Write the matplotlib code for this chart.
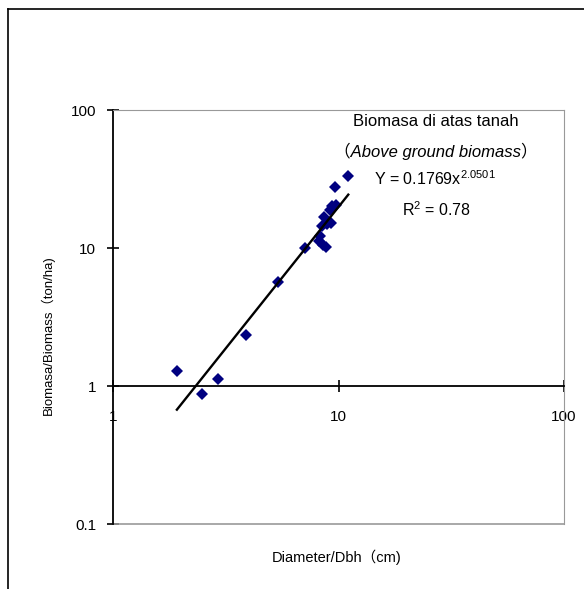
import matplotlib
matplotlib.use("Agg")
import matplotlib.pyplot as plt
import numpy as np

plt.rcParams['font.family'] = ['Liberation Sans', 'Noto Sans CJK JP', 'DejaVu Sans']
plt.rcParams['mathtext.default'] = 'regular'

# diameter (cm) and biomass (ton/ha)
dbh = [1.92, 2.49, 2.91, 3.88, 5.39, 7.10, 8.19, 8.28, 8.42, 8.56, 8.65, 8.80,
       8.89, 9.17, 9.26, 9.39, 9.65, 9.72, 11.05]
biomass = [1.28, 0.87, 1.12, 2.35, 5.63, 10.0, 11.3, 12.2, 14.4, 10.6, 16.7, 10.1,
           15.0, 19.0, 15.2, 20.0, 27.8, 20.6, 33.4]

# power trendline shown on the chart
coef_a = 0.1769
coef_b = 2.0501
r2 = 0.78

fig = plt.figure(figsize=(5.84, 5.89), dpi=100)
W, H = 584, 589
ax = fig.add_axes([113 / W, 1 - 524 / H, (564 - 113) / W, (524 - 110) / H])

ax.set_xscale('log')
ax.set_yscale('log')
ax.set_xlim(1, 100)
ax.set_ylim(0.1, 100)

ax.plot(dbh, biomass, 'D', color='#000080', markersize=6.3, markeredgewidth=0, zorder=3)

xs = np.linspace(min(dbh), max(dbh), 50)
ax.plot(xs, coef_a * xs ** coef_b, color='black', lw=1.7, zorder=4)

# spines: left axis black, x axis crossing at y = 1, rest grey frame
ax.spines['bottom'].set_position(('data', 1))
ax.spines['bottom'].set_color('black')
ax.spines['left'].set_color('black')
ax.spines['bottom'].set_linewidth(1.3)
ax.spines['left'].set_linewidth(1.3)
ax.spines['top'].set_color('#999999')
ax.spines['right'].set_color('#999999')
ax.axhline(0.1, color='#999999', lw=1.2, clip_on=False)

ax.set_xticks([1, 10, 100])
ax.set_xticklabels(['1', '10', '100'])
ax.set_yticks([0.1, 1, 10, 100])
ax.set_yticklabels(['0.1', '1', '10', '100'])
ax.minorticks_off()
ax.tick_params(axis='both', direction='inout', length=8, width=1.2, labelsize=11)
ax.tick_params(axis='x', pad=13)
ax.tick_params(axis='y', pad=8)

tx = 436
fig.text(tx / W, 1 - 121 / H, 'Biomasa di atas tanah', ha='center', va='center', fontsize=12)
fig.text(tx / W, 1 - 151 / H, '（Above ground biomass）', ha='center', va='center',
         fontsize=12, style='italic')
fig.text(435 / W, 1 - 179 / H, 'Y = %.4fx$^{%.4f}$' % (coef_a, coef_b), ha='center',
         va='center', fontsize=11.5)
fig.text(437 / W, 1 - 210 / H, 'R$^{2}$ = %.2f' % r2, ha='center', va='center', fontsize=11.5)

fig.text(337 / W, 1 - 557 / H, 'Diameter/Dbh（cm)', ha='center', va='center', fontsize=10.5)
fig.text(48 / W, 1 - 335 / H, 'Biomasa/Biomass（ton/ha)', ha='center', va='center',
         rotation=90, fontsize=9.5)

# outer frame (only top and left edges visible)
fig.add_artist(plt.Line2D([8 / W, 1.0], [1 - 9 / H, 1 - 9 / H], color='black', lw=1.2))
fig.add_artist(plt.Line2D([8 / W, 8 / W], [0.0, 1 - 9 / H], color='black', lw=1.2))

fig.savefig('out.png', dpi=100)
